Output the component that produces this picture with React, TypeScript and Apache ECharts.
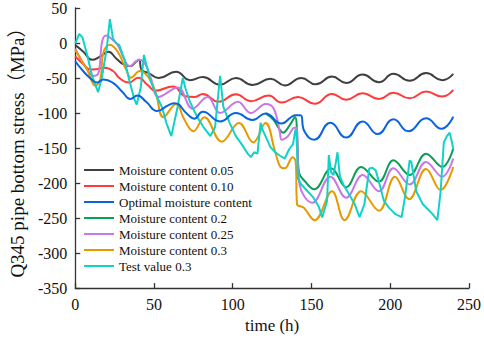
import React, { useEffect, useRef } from "react";
import * as echarts from "echarts";

// ---- Data (time h, stress MPa) ----
const seriesNames = [
  "Moisture content 0.05",
  "Moisture content 0.10",
  "Optimal moisture content",
  "Moisture content 0.2",
  "Moisture content 0.25",
  "Moisture content 0.3",
  "Test value 0.3",
];

const m005: number[][] = [
  [0, -3], [5, -12], [10.7, -24], [16, -19], [21, -12.5], [26, -22], [31, -31], [35, -33], [38.5, -27], [40.6, -24],
  [42, -38], [46.7, -43], [53, -50], [64, -41], [73, -53], [81, -48.6], [92, -59.5], [102, -50], [112.6, -60], [124, -51],
  [133, -60.5], [143.5, -50], [152.7, -59], [163, -48], [172, -57], [182.5, -45], [192.8, -56], [202, -44], [212.3, -54], [222.7, -43],
  [233, -53], [240, -44],
];

const m010: number[][] = [
  [0, -19], [5, -30], [9.7, -38], [14, -37], [18, -35.5], [24, -40], [28, -50], [34, -56.5], [40, -49.6], [46, -60],
  [51, -68], [62, -62], [70, -76], [76, -77], [81, -72.7], [91, -84], [102, -73], [111.5, -83], [122.8, -75], [131, -85],
  [141.4, -77], [152, -86.6], [163, -72.7], [172, -81], [182.5, -71.8], [192.8, -80], [202, -71], [212.3, -79], [222.7, -69.4], [233, -76.4],
  [240, -67],
];

const mOpt: number[][] = [
  [0, -26], [5, -40], [9.7, -50.6], [13.8, -56.5], [18, -52], [24, -57], [30, -70], [35, -80], [39.5, -75], [45, -84],
  [52, -97], [59, -89], [63, -86], [71.4, -102], [75.5, -108], [81, -98], [92, -112], [102, -100], [112.6, -110], [120.8, -100.5],
  [131, -115], [137, -106], [140, -103], [143, -103], [145.5, -126], [151.7, -138], [162, -114], [172, -135], [182.5, -112], [192, -130],
  [202, -109], [211.5, -126], [222.7, -107.5], [232.5, -122.5], [240, -105],
];

const m02: number[][] = [
  [121, -100.5], [126, -110], [129, -121], [132, -128], [136, -118], [139.5, -106], [141, -140], [142, -184], [146, -198], [151.7, -209],
  [162.5, -179], [172, -206], [181.5, -177], [192.8, -198], [202, -167.6], [212.3, -188.5], [222.7, -158], [233, -177], [240, -151],
];

const m025: number[][] = [
  [0, -8], [4, -25], [7.6, -38], [11.7, -47], [14.8, -42.6], [17, 1], [19.5, 10.6], [22, 8], [27, -3.3], [31.3, -24],
  [34.4, -33], [40.6, -24], [44.7, -31], [48, -50], [53, -77], [65, -63.5], [74.5, -93.6], [84, -77], [92, -100], [103.3, -84],
  [111.5, -100], [121, -87], [126, -93.6], [130, -128], [131, -138], [135, -133], [139.3, -121], [140.5, -121], [142.4, -202], [150.6, -228],
  [162, -191], [172, -221], [182.5, -188.5], [192.8, -211.7], [202, -179], [212.3, -202], [222.7, -170], [233, -191], [240, -165],
];

const m03: number[][] = [
  [0, -10], [4, -25], [7.6, -38], [12.8, -61], [15.9, -52], [18, -12.5], [22, -2.4], [27, -12.5], [32.3, -38], [35.4, -49.6],
  [41, -40], [46.7, -49.6], [51, -70], [56, -106], [64, -87], [69.4, -110], [75, -126], [82, -106], [93, -141], [104, -114.4],
  [113, -142], [120.8, -114.4], [127, -156], [130, -176], [133, -179], [138, -163], [140, -170], [140.8, -230], [145, -235], [152, -253],
  [163, -211.7], [171, -253], [181.5, -211.7], [192.8, -239.5], [203, -191], [212, -223], [222.7, -180], [232, -210], [240, -177],
];

const test03: number[][] = [
  [0, -1], [2.5, 13], [4.6, 8], [7.6, -17], [10.7, -47], [13.8, -66], [14.5, -70], [16.9, -49.6], [20, -8], [22, 34],
  [24, 6], [26, 0], [28, -3], [31.3, -24], [34.4, -54], [37.5, -80], [39, -88], [41.6, -63.5], [43.6, -17], [45.7, -35.7],
  [47.8, -54], [51.9, -77], [55, -91], [58, -115], [61, -133], [65, -91], [68.3, -49.6], [70, -65], [72.5, -82], [75.5, -97],
  [78.6, -110], [82, -122], [85.8, -133], [88.8, -120], [90.5, -80], [92, -47], [94, -91], [98, -114], [102, -133], [106.4, -147],
  [109.5, -158], [111.5, -163], [113.6, -156], [115.7, -158], [117.7, -114], [119, -124], [120.8, -133], [124, -149], [127, -156], [130, -161],
  [133, -165], [136, -151], [138.3, -144.5], [139.8, -123.6], [140.4, -125], [141.4, -193], [143.5, -202], [147.5, -211.7], [151, -220], [154.8, -234.7],
  [156.8, -249], [158, -240], [159.9, -225.5], [161, -160], [162.5, -185], [164, -188.5], [165.5, -170], [166.5, -156], [168, -190], [170.2, -202],
  [173.3, -214], [177.4, -230], [180.5, -248.6], [183.6, -230], [186.7, -179], [188.7, -178], [190.8, -182], [192.8, -198], [196, -225.5], [199, -234.7],
  [203, -244], [207.2, -248.6], [209.3, -221], [211.4, -184], [212.3, -167.6], [213.4, -170], [216.5, -211.7], [220.6, -230], [223.7, -237], [226.8, -244],
  [229.9, -253], [232, -211.7], [234, -142], [236, -133], [237.7, -128], [239, -140], [240, -151],
];

const seriesData = [m005, m010, mOpt, m02, m025, m03, test03];
const colors = ["#404040", "#ff3a3a", "#0a64e0", "#08a055", "#c878e6", "#e69a00", "#10d2c8"];
const smoothFlags = [0.5, 0.5, 0.5, 0.4, 0.4, 0.4, false];

const FONT = "Liberation Serif";

export default function App() {
  const ref = useRef<HTMLDivElement>(null);

  useEffect(() => {
    if (!ref.current) return;
    const chart = echarts.init(ref.current, undefined, { renderer: "svg" });
    chart.setOption({
      animation: false,
      backgroundColor: "#ffffff",
      color: colors,
      textStyle: { fontFamily: FONT },
      grid: { left: 64, right: 15, top: 8, bottom: 43, containLabel: false },
      legend: {
        orient: "vertical",
        left: 84,
        top: 162,
        itemWidth: 30,
        itemHeight: 2,
        itemGap: 0,
        icon: "rect",
        padding: 0,
        textStyle: { fontFamily: FONT, fontSize: 13, color: "#111", lineHeight: 16 },
        data: seriesNames,
      },
      xAxis: {
        type: "value",
        min: 0,
        max: 250,
        interval: 50,
        name: "time (h)",
        nameLocation: "middle",
        nameGap: 22,
        nameTextStyle: { fontFamily: FONT, fontSize: 17, color: "#111" },
        axisLine: { show: true, onZero: false, lineStyle: { color: "#333", width: 1.3 } },
        axisTick: { show: true, inside: true, length: 5, lineStyle: { color: "#333", width: 1.3 } },
        axisLabel: { fontFamily: FONT, fontSize: 16, color: "#111", margin: 8 },
        splitLine: { show: false },
      },
      yAxis: {
        type: "value",
        min: -350,
        max: 50,
        interval: 50,
        name: "Q345 pipe bottom stress（MPa）",
        nameLocation: "middle",
        nameGap: 40,
        nameTextStyle: { fontFamily: "Liberation Serif, Noto Sans CJK SC", fontSize: 19, color: "#111" },
        axisLine: { show: true, onZero: false, lineStyle: { color: "#333", width: 1.3 } },
        axisTick: { show: true, inside: true, length: 5, lineStyle: { color: "#333", width: 1.3 } },
        axisLabel: { fontFamily: FONT, fontSize: 16, color: "#111", margin: 8 },
        splitLine: { show: false },
      },
      series: seriesNames.map((name, i) => ({
        name,
        type: "line",
        data: seriesData[i],
        smooth: smoothFlags[i],
        showSymbol: false,
        symbol: "none",
        lineStyle: { width: 2, color: colors[i] },
        itemStyle: { color: colors[i] },
        z: i === 2 ? 3 : 2,
      })),
    });
    return () => chart.dispose();
  }, []);

  return (
    <div
      ref={ref}
      style={{ position: "fixed", left: 0, top: 0, width: 484, height: 339, background: "#fff" }}
    />
  );
}
